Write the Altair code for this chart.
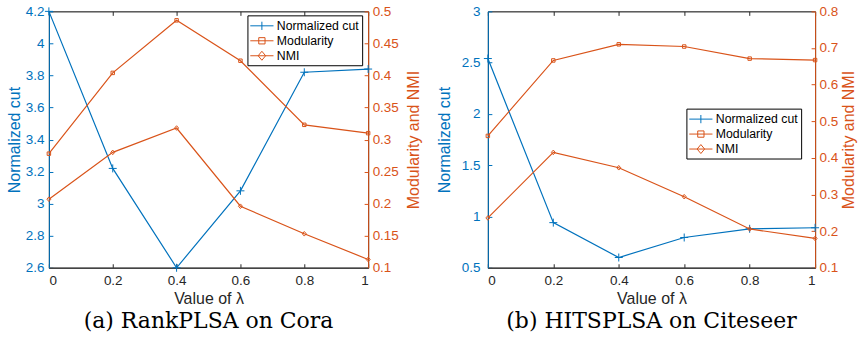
import altair as alt
import pandas as pd

lam = [0.0, 0.2, 0.4, 0.6, 0.8, 1.0]
x_ticks = [0, 0.2, 0.4, 0.6, 0.8, 1]

series_names = ["Normalized cut", "Modularity", "NMI"]

# (a) RankPLSA on Cora
cora_cut = [4.2, 3.22, 2.6, 3.08, 3.82, 3.84]
cora_mod = [0.278, 0.404, 0.486, 0.423, 0.323, 0.31]
cora_nmi = [0.207, 0.28, 0.318, 0.196, 0.153, 0.113]
cora_left_ticks = [2.6, 2.8, 3.0, 3.2, 3.4, 3.6, 3.8, 4.0, 4.2]
cora_right_ticks = [0.1, 0.15, 0.2, 0.25, 0.3, 0.35, 0.4, 0.45, 0.5]

# (b) HITSPLSA on Citeseer
cite_cut = [2.54, 0.94, 0.6, 0.795, 0.88, 0.89]
cite_mod = [0.46, 0.666, 0.71, 0.704, 0.671, 0.667]
cite_nmi = [0.236, 0.415, 0.373, 0.294, 0.206, 0.18]
cite_left_ticks = [0.5, 1.0, 1.5, 2.0, 2.5, 3.0]
cite_right_ticks = [0.1, 0.2, 0.3, 0.4, 0.5, 0.6, 0.7, 0.8]

BLUE = "#0072BD"
ORANGE = "#D95319"
FONT = "Liberation Sans"
LFS = 13.5   # tick labels
TFS = 16     # axis titles

CROSS = "M-1,0H1M0,-1V1"
SQUARE = "M-1,-1H1V1H-1Z"
DIAMOND = "M-1,0L0,-1.15L1,0L0,1.15Z"

LEG_LINE = "M-1.55,0H1.55"
LEG_CUT = LEG_LINE + "M0,-0.55V0.55"
LEG_MOD = LEG_LINE + "M-0.42,-0.42H0.42V0.42H-0.42Z"
LEG_NMI = LEG_LINE + "M-0.5,0L0,-0.6L0.5,0L0,0.6Z"

H = 257


def panel(cut, mod, nmi, ldom, rdom, lticks, rticks, w, lpad, rpad, ltp, rtp, legx, legy, caption):
    xenc = alt.X(
        "lam:Q",
        scale=alt.Scale(domain=[0, 1], nice=False, zero=False),
        axis=alt.Axis(
            values=x_ticks, format="~g", title="Value of λ",
            grid=True, gridDash=[4, H - 8, 4, 2000], gridColor="#262626", gridWidth=1,
            ticks=False, labelPadding=6, domainColor="#444444", domainWidth=1.5,
            labelColor="#262626", titleColor="#262626", titlePadding=3,
            labelFont=FONT, labelFontSize=LFS, titleFont=FONT, titleFontSize=TFS, titleFontWeight="normal",
        ),
    )
    dcut = pd.DataFrame({"lam": lam, "v": cut})
    dmod = pd.DataFrame({"lam": lam, "v": mod})
    dnmi = pd.DataFrame({"lam": lam, "v": nmi})

    yl = alt.Y(
        "v:Q",
        scale=alt.Scale(domain=ldom, nice=False, zero=False),
        axis=alt.Axis(
            values=lticks, format="~g", title="Normalized cut", orient="left",
            grid=True, gridDash=[4, 2000], gridColor=BLUE, ticks=False,
            labelColor=BLUE, titleColor=BLUE, domainColor=BLUE,
            labelPadding=lpad, titlePadding=ltp,
            labelFont=FONT, labelFontSize=LFS, titleFont=FONT, titleFontSize=TFS, titleFontWeight="normal",
        ),
    )
    yr = alt.Y(
        "v:Q",
        scale=alt.Scale(domain=rdom, nice=False, zero=False),
        axis=alt.Axis(
            values=rticks, format="~g", title="Modularity and NMI", orient="right",
            grid=True, gridDash=[4, 2000], gridColor=ORANGE, ticks=False,
            labelColor=ORANGE, titleColor=ORANGE, domainColor=ORANGE,
            labelPadding=rpad, titlePadding=rtp, titleAngle=270, titleBaseline="top",
            labelFont=FONT, labelFontSize=LFS, titleFont=FONT, titleFontSize=TFS, titleFontWeight="normal",
        ),
    )

    left = alt.layer(
        alt.Chart(dcut).mark_line(color=BLUE, strokeWidth=1.2).encode(x=xenc, y=yl),
        alt.Chart(dcut).mark_point(shape=CROSS, color=BLUE, size=64, strokeWidth=1, filled=False, opacity=1).encode(x=xenc, y=yl),
    )

    leg = alt.Legend(
        title=None, orient="none", legendX=legx, legendY=legy,
        strokeColor="black", fillColor="white", padding=2.5,
        labelFont=FONT, labelFontSize=12.3, labelColor="black",
        symbolSize=225, symbolStrokeWidth=1, symbolOffset=4, labelOffset=7,
        rowPadding=0, symbolFillColor="transparent",
    )
    dleg = pd.DataFrame({"series": series_names, "lam": [0.5] * 3, "v": [0.3] * 3})
    legend_layer = alt.Chart(dleg).mark_point(filled=False, opacity=1).encode(
        color=alt.Color("series:N", scale=alt.Scale(domain=series_names, range=[BLUE, ORANGE, ORANGE]), legend=leg),
        shape=alt.Shape("series:N", scale=alt.Scale(domain=series_names, range=[LEG_CUT, LEG_MOD, LEG_NMI]), legend=leg),
    ).transform_filter("false")

    right = alt.layer(
        alt.Chart(dmod).mark_line(color=ORANGE, strokeWidth=1.2).encode(x=xenc, y=yr),
        alt.Chart(dmod).mark_point(shape=SQUARE, color=ORANGE, size=12, strokeWidth=1, filled=False, opacity=1).encode(x=xenc, y=yr),
        alt.Chart(dnmi).mark_line(color=ORANGE, strokeWidth=1.2).encode(x=xenc, y=yr),
        alt.Chart(dnmi).mark_point(shape=DIAMOND, color=ORANGE, size=16, strokeWidth=1, filled=False, opacity=1).encode(x=xenc, y=yr),
        legend_layer,
    )

    return alt.layer(left, right).resolve_scale(y="independent").properties(
        width=w, height=H,
        title=alt.TitleParams(caption, orient="bottom", font="DejaVu Serif", fontSize=22,
                              fontWeight="normal", color="black", offset=5, anchor="middle"),
    )


pa = panel(cora_cut, cora_mod, cora_nmi, [2.6, 4.2], [0.1, 0.5], cora_left_ticks, cora_right_ticks,
           320, 5, 4, 3, 7, 199, 4, "(a) RankPLSA on Cora")
pb = panel(cite_cut, cite_mod, cite_nmi, [0.5, 3.0], [0.1, 0.8], cite_left_ticks, cite_right_ticks,
           328, 8, 4, 9, 3, 199, 97.5, "(b) HITSPLSA on Citeseer")

chart = alt.hconcat(pa, pb, spacing=120, bounds="flush").resolve_scale(
    x="independent", y="independent", color="independent", shape="independent"
).properties(
    padding={"left": 5, "top": 3, "right": 0, "bottom": 0},
    background="white",
).configure_view(stroke="black", strokeWidth=1)

chart.save("out.html", embed_options={"renderer": "svg", "actions": False})
